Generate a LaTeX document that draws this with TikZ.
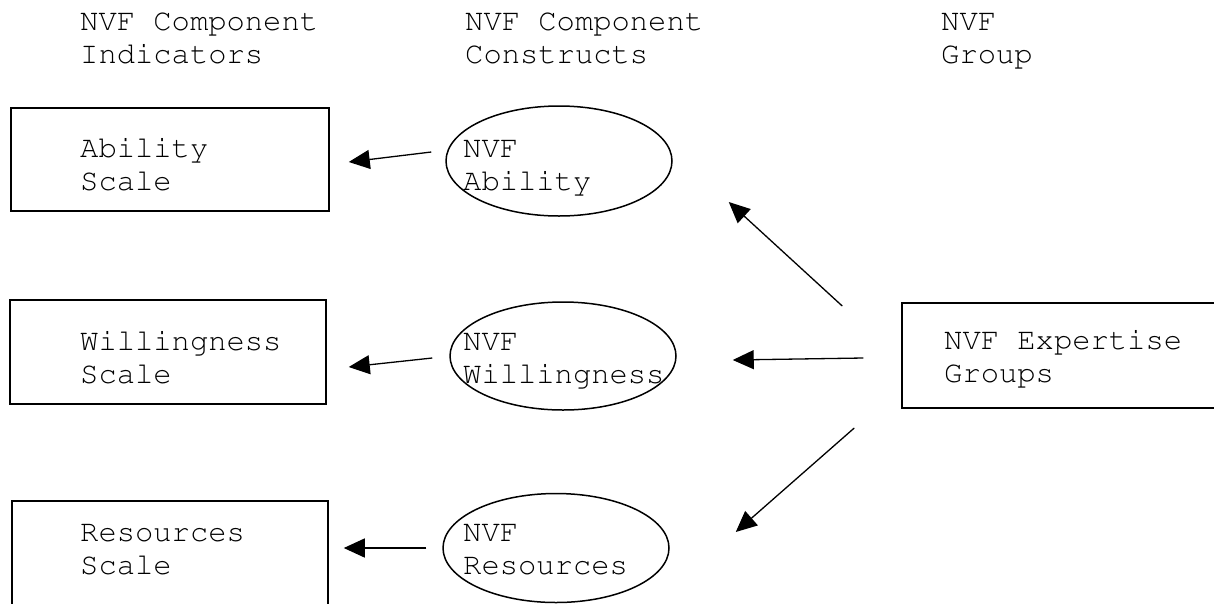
\documentclass[tikz,border=0pt]{standalone}
\usepackage[T1]{fontenc}
\usetikzlibrary{arrows.meta,shapes.geometric}
\newcommand{\twolines}[2]{\begin{tabular}[t]{@{}l@{}}#1\\#2\end{tabular}}
\newcommand{\courierfont}{\fontencoding{T1}\fontfamily{pcr}\fontseries{m}\fontshape{n}\fontsize{30.5}{33}\selectfont}
\begin{document}
\begin{tikzpicture}[x=1pt,y=-1pt,
  box/.style={draw, rectangle, line width=1.5pt, inner sep=0pt},
  oval/.style={draw, ellipse, line width=1.5pt, inner sep=0pt,
               minimum width=226pt},
  lbl/.style={font=\courierfont, inner sep=0pt, anchor=base west},
  arr/.style={-{Triangle[length=21pt,width=19pt]}, line width=1.3pt}]
\useasboundingbox (0,0) rectangle (1214,603);
\clip (0,0) rectangle (1214,603);

% column headings
\node[lbl] (h1) at (80,30)  {\twolines{NVF Component}{Indicators}};
\node[lbl] (h2) at (465,30) {\twolines{NVF Component}{Constructs}};
\node[lbl] (h3) at (941,30) {\twolines{NVF}{Group}};

% indicator scales
\node[box, minimum width=318pt, minimum height=103pt] (b1) at (170,159.5) {};
\node[box, minimum width=316pt, minimum height=104pt] (b2) at (168,352) {};
\node[box, minimum width=316pt, minimum height=114pt] (b3) at (170,558) {};
\node[lbl] (tb1) at (80,157) {\twolines{Ability}{Scale}};
\node[lbl] (tb2) at (80,350) {\twolines{Willingness}{Scale}};
\node[lbl] (tb3) at (80,541) {\twolines{Resources}{Scale}};

% component constructs
\node[oval, minimum height=110pt] (e1) at (559,161) {};
\node[oval, minimum height=108pt] (e2) at (563,356) {};
\node[oval, minimum height=109pt] (e3) at (556,548) {};
\node[lbl] (te1) at (463,157) {\twolines{NVF}{Ability}};
\node[lbl] (te2) at (463,350) {\twolines{NVF}{Willingness}};
\node[lbl] (te3) at (463,541) {\twolines{NVF}{Resources}};

% expertise group
\node[box, minimum width=328pt, minimum height=105pt] (g) at (1066,355.5) {};
\node[lbl] (tg) at (944,349) {\twolines{NVF Expertise}{Groups}};

% constructs point to their scales
\draw[arr] ([xshift=-14pt,yshift=9pt]e1.west) -- ([xshift=19pt,yshift=-2.5pt]b1.east);
\draw[arr] ([xshift=-17pt,yshift=-2pt]e2.west) -- ([xshift=22pt,yshift=-15pt]b2.east);
\draw[arr] ([xshift=-16pt]e3.west) -- ([xshift=15pt,yshift=10pt]b3.east);

% group points to each construct
\draw[arr] ([xshift=-59pt,yshift=49.5pt]g.west) -- ([xshift=56pt,yshift=-41pt]e1.east);
\draw[arr] ([xshift=-38pt,yshift=-2.5pt]g.west) -- ([xshift=56pt,yshift=-4pt]e2.east);
\draw[arr] ([xshift=-47pt,yshift=-72.5pt]g.west) -- ([xshift=66pt,yshift=16pt]e3.east);
\end{tikzpicture}
\end{document}
